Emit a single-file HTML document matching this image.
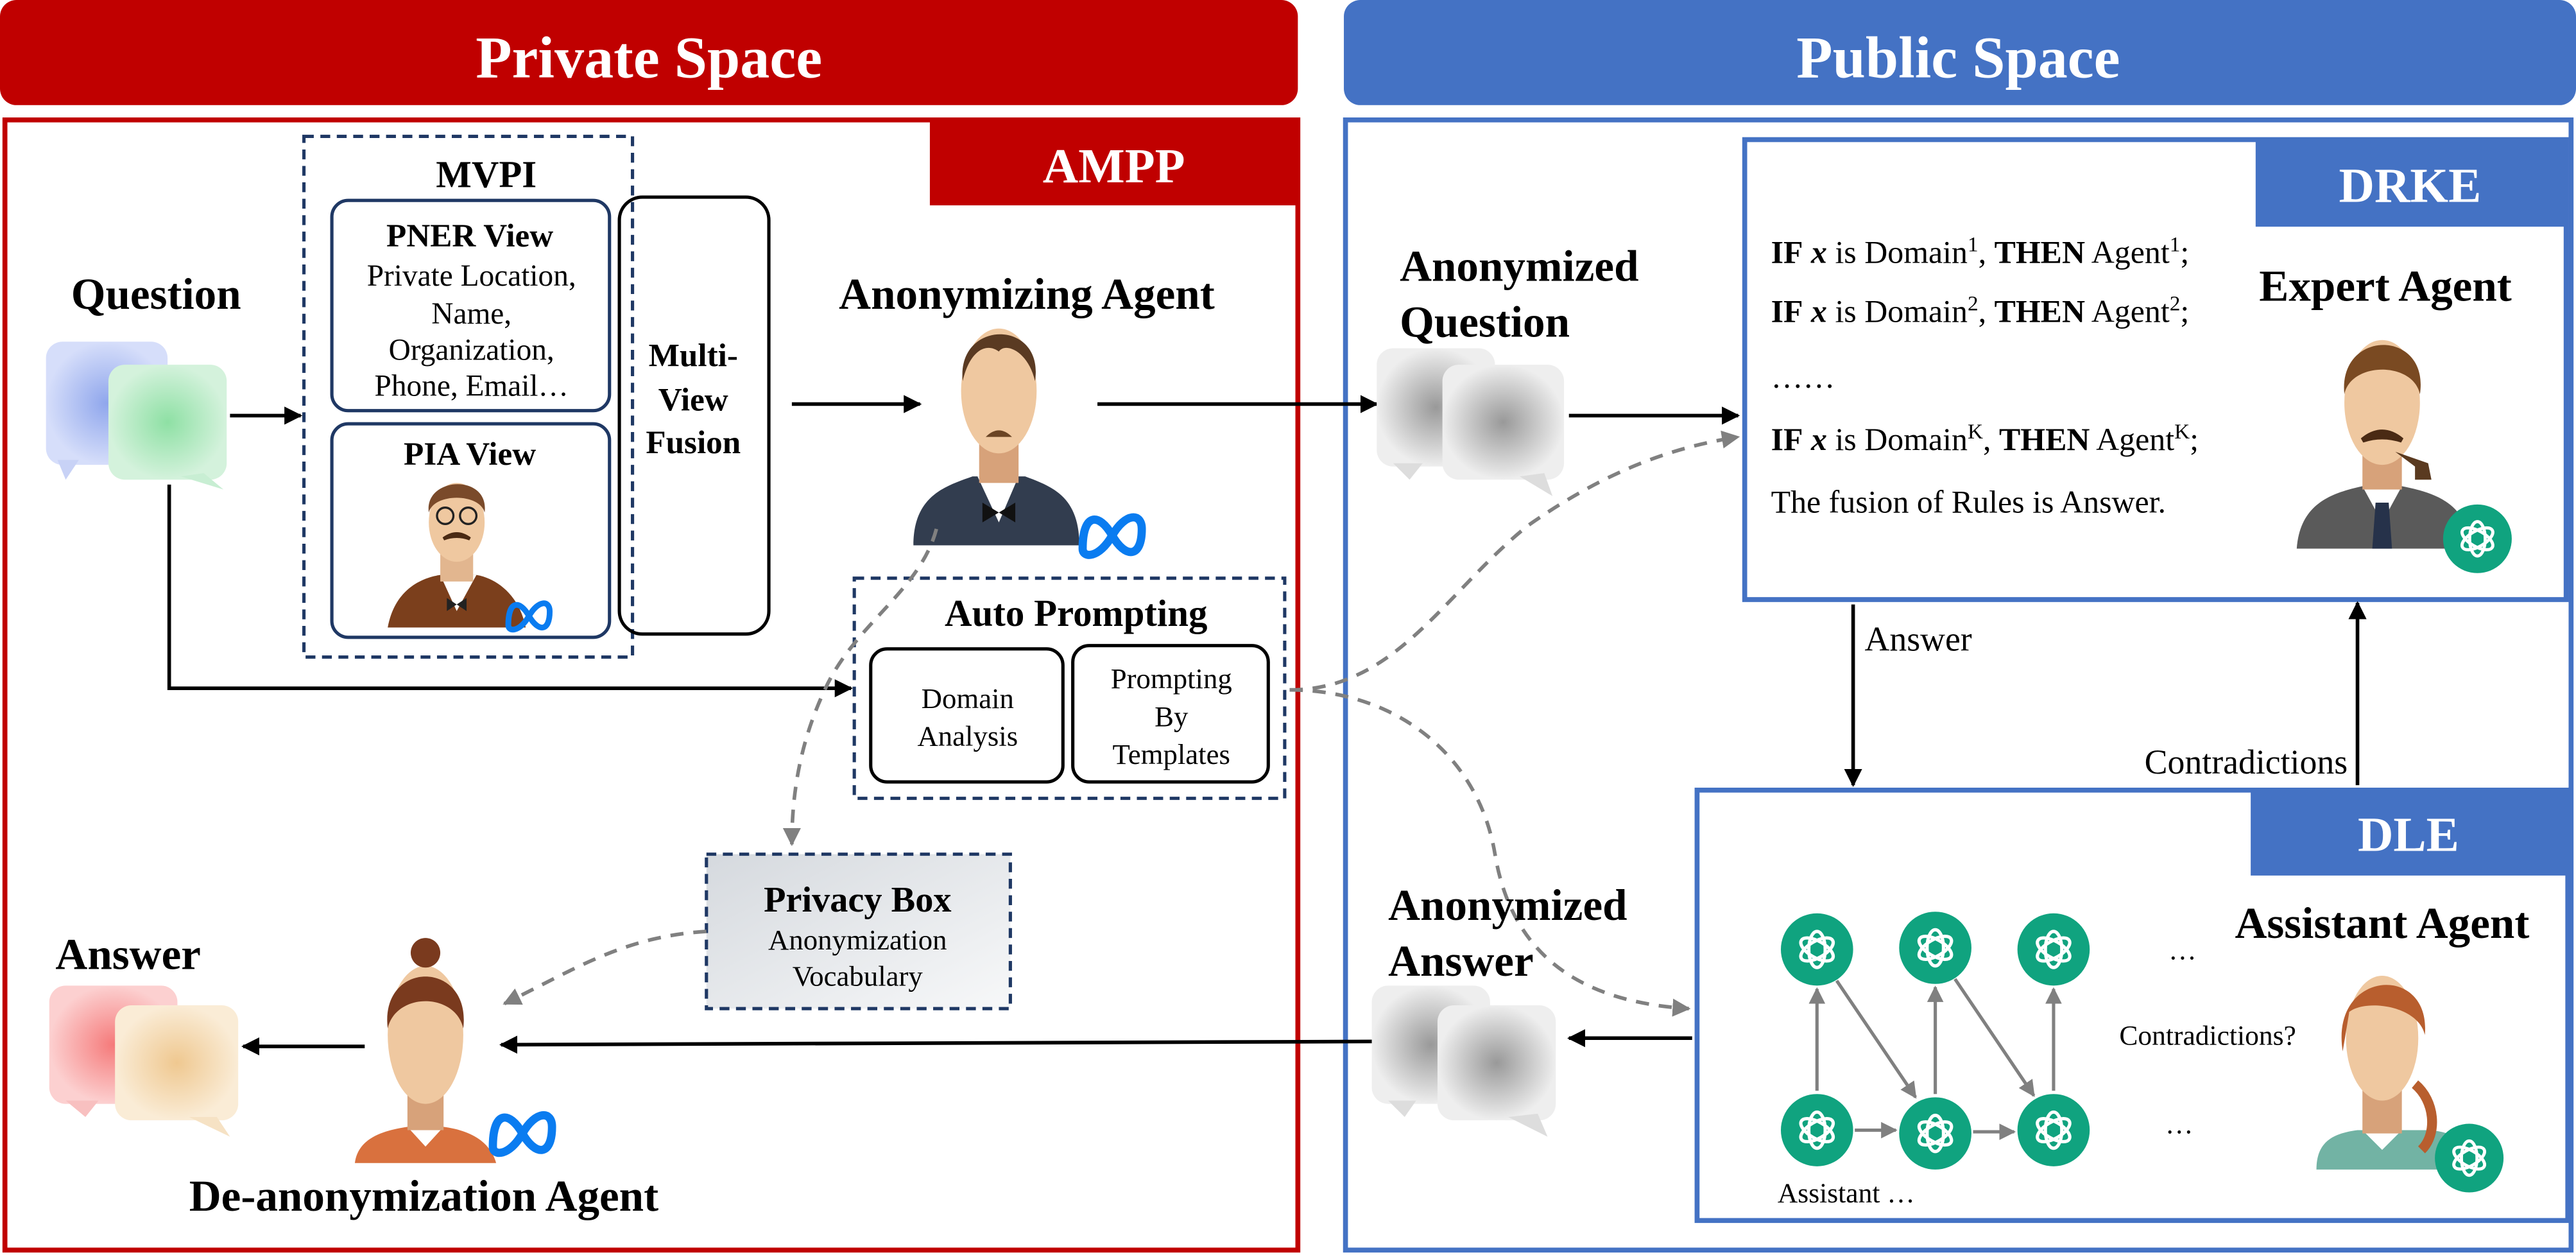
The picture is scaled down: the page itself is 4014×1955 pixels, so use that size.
<!DOCTYPE html>
<html><head><meta charset="utf-8"><style>
html,body{margin:0;padding:0;background:#fff;}
svg{display:block;}
text{font-family:"Liberation Serif",serif;}
</style></head><body>
<svg width="4014" height="1955" viewBox="0 0 1568 764" preserveAspectRatio="none" xmlns="http://www.w3.org/2000/svg">
<defs>
<marker id="ab" viewBox="0 0 10 10" refX="9" refY="5" markerWidth="5" markerHeight="5" orient="auto"><path d="M0,0L10,5L0,10z" fill="#000"/></marker>
<marker id="ag" viewBox="0 0 10 10" refX="9" refY="5" markerWidth="5" markerHeight="5" orient="auto"><path d="M0,0L10,5L0,10z" fill="#808080"/></marker>
<radialGradient id="gb"><stop offset="0" stop-color="#8fa6ec"/><stop offset="1" stop-color="#d6defa"/></radialGradient>
<radialGradient id="gg"><stop offset="0" stop-color="#8ee0a4"/><stop offset="1" stop-color="#d4f2dc"/></radialGradient>
<radialGradient id="gr"><stop offset="0" stop-color="#f57a7a"/><stop offset="1" stop-color="#fcd0d0"/></radialGradient>
<radialGradient id="gy"><stop offset="0" stop-color="#efc890"/><stop offset="1" stop-color="#faecd6"/></radialGradient>
<radialGradient id="gx"><stop offset="0" stop-color="#999"/><stop offset="1" stop-color="#eee"/></radialGradient>
<linearGradient id="pb" x1="0" y1="0" x2="1" y2="1"><stop offset="0" stop-color="#d5d9de"/><stop offset="1" stop-color="#f7f8f9"/></linearGradient>
<g id="oai"><circle r="22" fill="#10a37f"/><g fill="none" stroke="#fff" stroke-width="2"><ellipse rx="5" ry="11" transform="rotate(0)"/><ellipse rx="5" ry="11" transform="rotate(60)"/><ellipse rx="5" ry="11" transform="rotate(120)"/></g></g>
<g id="meta"><path d="M-18,8 C-18,-14 -8,-14 0,0 C8,14 18,14 18,-4 C18,-14 8,-14 0,0 C-8,14 -18,14 -18,8z" fill="none" stroke="#0a7cf0" stroke-width="5"/></g>
</defs>

<rect x="0" y="0" width="790" height="64" rx="10" fill="#c00000"/>
<text x="395" y="47" font-size="36" font-weight="bold" fill="#fff" text-anchor="middle">Private Space</text>
<rect x="818" y="0" width="750" height="64" rx="10" fill="#4472c4"/>
<text x="1192" y="47" font-size="36" font-weight="bold" fill="#fff" text-anchor="middle">Public Space</text>

<rect x="3" y="73" width="787" height="688" fill="none" stroke="#c00000" stroke-width="3"/>
<rect x="566" y="73" width="224" height="52" fill="#c00000"/>
<text x="678" y="111" font-size="30" font-weight="bold" fill="#fff" text-anchor="middle">AMPP</text>
<rect x="819" y="73" width="746" height="688" fill="none" stroke="#4472c4" stroke-width="3"/>

<rect x="185" y="83" width="200" height="317" fill="none" stroke="#1f3864" stroke-width="2" stroke-dasharray="6,4"/>
<text x="296" y="114" font-size="23" font-weight="bold" text-anchor="middle">MVPI</text>
<rect x="202" y="122" width="169" height="128" rx="10" fill="none" stroke="#1f3864" stroke-width="2"/>
<text x="286" y="150" font-size="20" font-weight="bold" text-anchor="middle">PNER View</text>
<g font-size="18.5" text-anchor="middle"><text x="287" y="174">Private Location,</text><text x="287" y="197">Name,</text><text x="287" y="219">Organization,</text><text x="287" y="241">Phone, Email…</text></g>
<rect x="202" y="258" width="169" height="130" rx="10" fill="none" stroke="#1f3864" stroke-width="2"/>
<text x="286" y="283" font-size="20" font-weight="bold" text-anchor="middle">PIA View</text>
<path d="M236,382 C240,360 255,352 268,350 L290,350 C302,352 316,362 320,382z" fill="#7b3f1c"/>
<path d="M268,350 L278,372 L290,350z" fill="#fff"/>
<path d="M272,364 L278,368 L284,364 L284,372 L278,368 L272,372z" fill="#222"/>
<rect x="268" y="330" width="20" height="24" fill="#e2b68f"/>
<ellipse cx="278" cy="318" rx="17" ry="24" fill="#efc8a0"/>
<path d="M261,312 C258,290 298,288 295,312 C292,300 264,300 261,312z" fill="#7a4a2a"/>
<circle cx="271" cy="314" r="5" fill="none" stroke="#222" stroke-width="1.3"/><circle cx="285" cy="314" r="5" fill="none" stroke="#222" stroke-width="1.3"/>
<path d="M270,328 Q278,322 286,328 Q278,325 270,328z" fill="#4a2a14" stroke="#4a2a14" stroke-width="2"/>
<use href="#meta" transform="translate(322,375) scale(0.7)"/>
<rect x="377" y="120" width="91" height="266" rx="14" fill="none" stroke="#000" stroke-width="2"/>
<g font-size="20" font-weight="bold" text-anchor="middle"><text x="422" y="223">Multi-</text><text x="422" y="250">View</text><text x="422" y="276">Fusion</text></g>

<text x="95" y="188" font-size="27" font-weight="bold" text-anchor="middle">Question</text>
<rect x="28" y="208" width="74" height="75" rx="10" fill="url(#gb)"/><path d="M35,280 L40,292 L48,280z" fill="#c8d2f6"/>
<rect x="66" y="222" width="72" height="70" rx="10" fill="url(#gg)"/><path d="M110,290 L136,298 L124,288z" fill="#c8eed3"/>
<line x1="140" y1="253" x2="183" y2="253" stroke="#000" stroke-width="2.2" marker-end="url(#ab)"/>
<polyline points="103,295 103,419 518,419" fill="none" stroke="#000" stroke-width="2.2" marker-end="url(#ab)"/>

<text x="625" y="188" font-size="27" font-weight="bold" text-anchor="middle">Anonymizing Agent</text>
<path d="M556,332 C556,302 575,296 592,290 L624,290 C640,296 657,302 657,332z" fill="#323d4f"/>
<path d="M595,290 L608,318 L620,290z" fill="#fff"/>
<path d="M598,306 L608,312 L618,306 L618,318 L608,312 L598,318z" fill="#111"/>
<rect x="596" y="260" width="24" height="34" fill="#d7a27a"/>
<ellipse cx="608" cy="238" rx="23" ry="38" fill="#efc8a0"/>
<path d="M586,232 C582,194 636,194 630,232 C626,214 612,208 608,214 C600,208 590,214 586,232z" fill="#5a3a22"/>
<path d="M600,266 Q608,258 616,266z" fill="#6a4424"/>
<use href="#meta" transform="translate(677,326)"/>
<line x1="482" y1="246" x2="560" y2="246" stroke="#000" stroke-width="2.2" marker-end="url(#ab)"/>
<line x1="668" y1="246" x2="838" y2="246" stroke="#000" stroke-width="2.2" marker-end="url(#ab)"/>

<rect x="520" y="352" width="262" height="134" fill="none" stroke="#1f3864" stroke-width="2" stroke-dasharray="6,4"/>
<text x="655" y="381" font-size="23" font-weight="bold" text-anchor="middle">Auto Prompting</text>
<rect x="530" y="395" width="117" height="81" rx="10" fill="none" stroke="#000" stroke-width="2"/>
<g font-size="17.5" text-anchor="middle"><text x="589" y="431">Domain</text><text x="589" y="454">Analysis</text></g>
<rect x="653" y="393" width="119" height="83" rx="10" fill="none" stroke="#000" stroke-width="2"/>
<g font-size="17.5" text-anchor="middle"><text x="713" y="419">Prompting</text><text x="713" y="442">By</text><text x="713" y="465">Templates</text></g>

<rect x="430" y="520" width="185" height="94" fill="url(#pb)" stroke="#1f3864" stroke-width="2" stroke-dasharray="6,4"/>
<text x="522" y="555" font-size="22" font-weight="bold" text-anchor="middle">Privacy Box</text>
<g font-size="17.5" text-anchor="middle"><text x="522" y="578">Anonymization</text><text x="522" y="600">Vocabulary</text></g>

<g fill="none" stroke="#808080" stroke-width="2.2" stroke-dasharray="8,6">
<path d="M570,322 C560,360 520,380 502,420 C488,450 482,480 482,514" marker-end="url(#ag)"/>
<path d="M430,567 C380,570 350,590 307,611" marker-end="url(#ag)"/>
<path d="M785,420 C850,420 880,360 930,320 C980,285 1020,272 1058,266" marker-end="url(#ag)"/>
<path d="M785,420 C850,420 900,460 910,520 C920,580 960,610 1028,614" marker-end="url(#ag)"/>
</g>

<text x="78" y="590" font-size="27" font-weight="bold" text-anchor="middle">Answer</text>
<rect x="30" y="600" width="78" height="72" rx="10" fill="url(#gr)"/><path d="M40,670 L52,680 L60,670z" fill="#f8c0c0"/>
<rect x="70" y="612" width="75" height="70" rx="10" fill="url(#gy)"/><path d="M115,680 L140,692 L132,680z" fill="#f6e2c4"/>
<line x1="222" y1="637" x2="148" y2="637" stroke="#000" stroke-width="2.2" marker-end="url(#ab)"/>
<path d="M216,708 C218,692 235,688 248,686 L270,686 C285,688 298,694 302,708z" fill="#d9713e"/>
<path d="M248,686 L259,698 L270,686z" fill="#fff"/>
<rect x="248" y="660" width="22" height="28" fill="#d7a27a"/>
<ellipse cx="259" cy="630" rx="23" ry="42" fill="#efc8a0"/>
<path d="M236,626 C231,584 287,584 282,626 C277,604 241,604 236,626z" fill="#7a3a1e"/>
<circle cx="259" cy="580" r="9" fill="#7a3a1e"/>
<use href="#meta" transform="translate(318,690)"/>
<text x="258" y="737" font-size="27" font-weight="bold" text-anchor="middle">De-anonymization Agent</text>

<line x1="838" y1="634" x2="305" y2="636" stroke="#000" stroke-width="2.2" marker-end="url(#ab)"/>
<line x1="1030" y1="632" x2="955" y2="632" stroke="#000" stroke-width="2.2" marker-end="url(#ab)"/>

<text x="852" y="171" font-size="27" font-weight="bold">Anonymized</text>
<text x="852" y="205" font-size="27" font-weight="bold">Question</text>
<rect x="838" y="212" width="72" height="72" rx="10" fill="url(#gx)"/><path d="M848,282 L858,292 L866,282z" fill="#ddd"/>
<rect x="878" y="222" width="74" height="70" rx="10" fill="url(#gx)"/><path d="M925,290 L945,302 L940,288z" fill="#ddd"/>
<line x1="955" y1="253" x2="1058" y2="253" stroke="#000" stroke-width="2.2" marker-end="url(#ab)"/>

<text x="845" y="560" font-size="27" font-weight="bold">Anonymized</text>
<text x="845" y="594" font-size="27" font-weight="bold">Answer</text>
<rect x="835" y="600" width="72" height="72" rx="10" fill="url(#gx)"/><path d="M845,670 L855,680 L862,670z" fill="#ddd"/>
<rect x="875" y="612" width="72" height="70" rx="10" fill="url(#gx)"/><path d="M918,680 L942,692 L936,678z" fill="#ddd"/>

<rect x="1062" y="85" width="500" height="280" fill="none" stroke="#4472c4" stroke-width="3"/>
<rect x="1373" y="85" width="189" height="53" fill="#4472c4"/>
<text x="1467" y="123" font-size="30" font-weight="bold" fill="#fff" text-anchor="middle">DRKE</text>
<g font-size="19.5">
<text x="1078" y="160"><tspan font-weight="bold">IF</tspan> <tspan font-weight="bold" font-style="italic">x</tspan> is Domain<tspan font-size="13" dy="-7">1</tspan><tspan dy="7">, </tspan><tspan font-weight="bold">THEN</tspan> Agent<tspan font-size="13" dy="-7">1</tspan><tspan dy="7">;</tspan></text>
<text x="1078" y="196"><tspan font-weight="bold">IF</tspan> <tspan font-weight="bold" font-style="italic">x</tspan> is Domain<tspan font-size="13" dy="-7">2</tspan><tspan dy="7">, </tspan><tspan font-weight="bold">THEN</tspan> Agent<tspan font-size="13" dy="-7">2</tspan><tspan dy="7">;</tspan></text>
<text x="1078" y="236">……</text>
<text x="1078" y="274"><tspan font-weight="bold">IF</tspan> <tspan font-weight="bold" font-style="italic">x</tspan> is Domain<tspan font-size="13" dy="-7">K</tspan><tspan dy="7">, </tspan><tspan font-weight="bold">THEN</tspan> Agent<tspan font-size="13" dy="-7">K</tspan><tspan dy="7">;</tspan></text>
<text x="1078" y="312">The fusion of Rules is Answer.</text>
</g>
<text x="1452" y="183" font-size="27" font-weight="bold" text-anchor="middle">Expert Agent</text>
<path d="M1398,334 C1400,306 1420,300 1438,296 L1462,296 C1482,300 1502,306 1504,334z" fill="#5a5a5a"/>
<path d="M1438,296 L1450,318 L1462,296z" fill="#fff"/>
<path d="M1446,306 L1454,306 L1456,334 L1444,334z" fill="#26324a"/>
<rect x="1438" y="268" width="24" height="30" fill="#d7a27a"/>
<ellipse cx="1450" cy="245" rx="23" ry="38" fill="#efc8a0"/>
<path d="M1427,240 C1423,200 1479,200 1473,240 C1469,220 1431,220 1427,240z" fill="#7a4a22"/>
<path d="M1438,268 Q1450,258 1462,268 Q1450,264 1438,268z" fill="#4a2a14" stroke="#4a2a14" stroke-width="3"/>
<path d="M1458,275 L1478,282 L1480,292 L1470,292 L1470,284z" fill="#5a3a20"/>
<use href="#oai" transform="translate(1508,328) scale(0.95)"/>

<line x1="1128" y1="368" x2="1128" y2="478" stroke="#000" stroke-width="2.2" marker-end="url(#ab)"/>
<text x="1135" y="396" font-size="21">Answer</text>
<line x1="1435" y1="478" x2="1435" y2="367" stroke="#000" stroke-width="2.2" marker-end="url(#ab)"/>
<text x="1429" y="471" font-size="21" text-anchor="end">Contradictions</text>

<rect x="1033" y="481" width="530" height="262" fill="none" stroke="#4472c4" stroke-width="3"/>
<rect x="1370" y="481" width="193" height="52" fill="#4472c4"/>
<text x="1466" y="518" font-size="30" font-weight="bold" fill="#fff" text-anchor="middle">DLE</text>
<g stroke="#808080" stroke-width="2" fill="none">
<line x1="1106" y1="664" x2="1106" y2="602" marker-end="url(#ag)"/>
<line x1="1178" y1="666" x2="1178" y2="601" marker-end="url(#ag)"/>
<line x1="1250" y1="664" x2="1250" y2="602" marker-end="url(#ag)"/>
<line x1="1118" y1="597" x2="1166" y2="668" marker-end="url(#ag)"/>
<line x1="1190" y1="596" x2="1238" y2="667" marker-end="url(#ag)"/>
<line x1="1129" y1="688" x2="1154" y2="688" marker-end="url(#ag)"/>
<line x1="1201" y1="689" x2="1226" y2="689" marker-end="url(#ag)"/>
</g>
<use href="#oai" transform="translate(1106,578)"/>
<use href="#oai" transform="translate(1178,577)"/>
<use href="#oai" transform="translate(1250,578)"/>
<use href="#oai" transform="translate(1106,688)"/>
<use href="#oai" transform="translate(1178,690)"/>
<use href="#oai" transform="translate(1250,688)"/>
<text x="1320" y="584" font-size="17">…</text>
<text x="1318" y="690" font-size="17">…</text>
<text x="1290" y="636" font-size="17">Contradictions?</text>
<text x="1082" y="732" font-size="17">Assistant …</text>
<text x="1450" y="571" font-size="27" font-weight="bold" text-anchor="middle">Assistant Agent</text>
<path d="M1410,712 C1410,695 1420,690 1435,688 L1480,688 C1495,690 1505,695 1505,712z" fill="#72b3a4"/>
<path d="M1438,688 L1450,700 L1462,688z" fill="#fff"/>
<rect x="1438" y="660" width="24" height="30" fill="#d7a27a"/>
<ellipse cx="1450" cy="632" rx="22" ry="38" fill="#efc8a0"/>
<path d="M1426,640 C1418,590 1480,586 1476,630 C1472,612 1440,608 1430,616z" fill="#b85e2e"/>
<path d="M1470,660 C1482,670 1484,690 1474,700" fill="none" stroke="#b85e2e" stroke-width="6"/>
<use href="#oai" transform="translate(1503,705) scale(0.95)"/>
</svg>
</body></html>
